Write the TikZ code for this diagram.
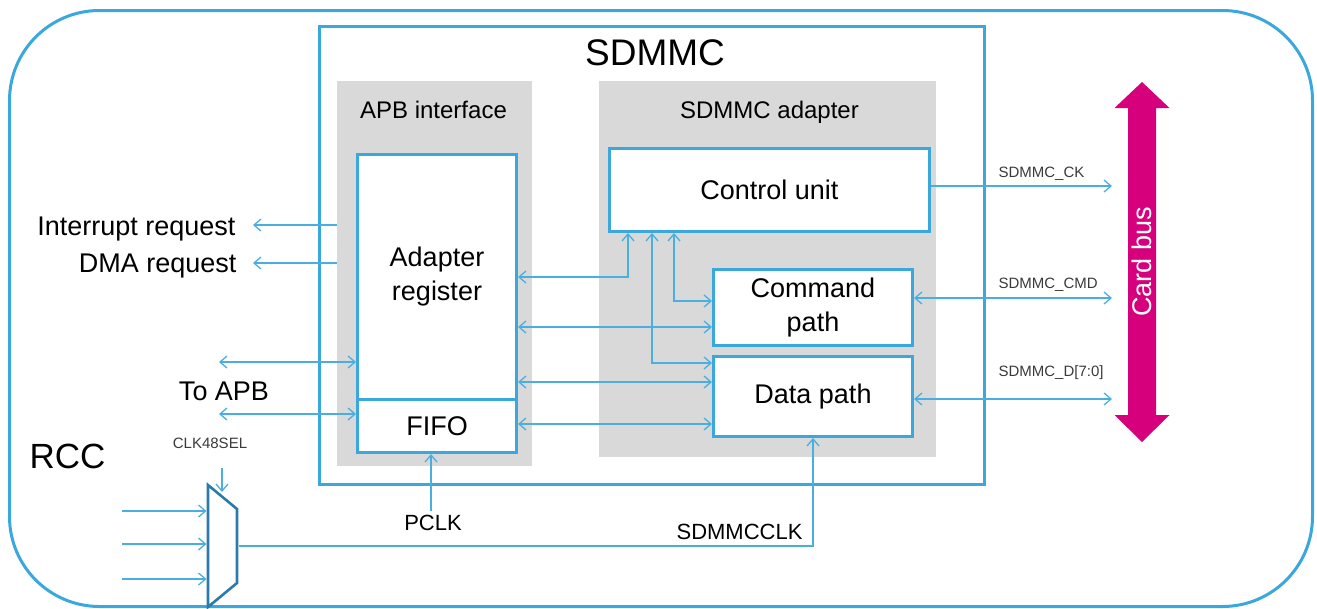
\documentclass[tikz,border=0pt]{standalone}
\usepackage{fontspec}
\setmainfont{Liberation Sans}
\usetikzlibrary{arrows.meta}

\definecolor{frameblue}{HTML}{3AA8DC}
\definecolor{linkblue}{HTML}{4AAFE0}
\definecolor{muxblue}{HTML}{2A7BAC}
\definecolor{panelgrey}{HTML}{D9D9D9}
\definecolor{busmagenta}{HTML}{D6007C}
\definecolor{smalltext}{HTML}{3A3A3A}

\begin{document}
\begin{tikzpicture}[x=1pt,y=-1pt,
  >={Straight Barb[length=7pt,width=12pt]},
  frame/.style={draw=frameblue,line width=3pt},
  panel/.style={fill=panelgrey,draw=none,anchor=north west,inner sep=0pt},
  block/.style={draw=frameblue,line width=3pt,fill=white,anchor=north west,
    align=center,inner sep=0pt,font=\fontsize{27}{34}\selectfont},
  link/.style={draw=linkblue,line width=1.3pt},
  paneltitle/.style={font=\fontsize{24}{28}\selectfont,anchor=base},
  biglabel/.style={font=\fontsize{27}{32}\selectfont},
  midlabel/.style={font=\fontsize{22}{26}\selectfont},
  siglabel/.style={font=\fontsize{15}{18}\selectfont,text=smalltext}]

\useasboundingbox (0,0) rectangle (1317,608);

% outer system frame
\node[frame,rounded corners=90pt,minimum width=1303pt,minimum height=596pt,
  anchor=north west,inner sep=0pt] (chip) at (8,9) {};

% SDMMC peripheral
\node[frame,fill=white,minimum width=665pt,minimum height=458pt,
  anchor=north west,inner sep=0pt] (sdmmc) at (318,25) {};
\node[font=\fontsize{37}{40}\selectfont,anchor=base] (sdmmctitle) at (655,65) {SDMMC};

% grey sub-blocks
\node[panel,minimum width=195pt,minimum height=385pt] (apbif) at (337,81) {};
\node[paneltitle] (apbtitle) at (433.5,118) {APB interface};
\node[panel,minimum width=337pt,minimum height=376pt] (adapter) at (599,81) {};
\node[paneltitle] (adtitle) at (769.5,118) {SDMMC adapter};

% functional blocks
\node[block,minimum width=159pt,minimum height=245pt] (adreg) at (356,153) {Adapter\\register};
\node[block,minimum width=159pt,minimum height=53pt] (fifo) at (356,398) {FIFO};
\node[block,minimum width=320pt,minimum height=83pt] (ctrl) at (608,147) {Control unit};
\node[block,minimum width=199pt,minimum height=76pt] (cmd) at (712,268) {Command\\path};
\node[block,minimum width=199pt,minimum height=80pt] (data) at (712,355) {Data path};

% card bus
\fill[busmagenta] (1142,82) -- (1169.5,108) -- (1156,108) -- (1156,415) -- (1169.5,415)
  -- (1142,442) -- (1114.5,415) -- (1128,415) -- (1128,108) -- (1114.5,108) -- cycle;
\node[rotate=90,text=white,font=\fontsize{27}{30}\selectfont] (cardbus) at (1142,262) {Card bus};

% request outputs
\coordinate (irq) at (253,225);
\coordinate (dma) at (253,263);
\draw[link,->] (apbif.west |- irq) -- (irq);
\draw[link,->] (apbif.west |- dma) -- (dma);
\node[biglabel,anchor=base east] (irqlabel) at (239,235) {Interrupt request};
\node[biglabel,anchor=base east] (dmalabel) at (240,272) {DMA request};

% APB bus
\coordinate (apbreg) at (219,362);
\coordinate (apbfifo) at (219,414);
\draw[link,<->] (apbreg) -- (adreg.west |- apbreg);
\draw[link,<->] (apbfifo) -- (fifo.west |- apbfifo);
\node[biglabel,anchor=base] (apblabel) at (224,400) {To APB};

% internal paths
\coordinate (k1) at (628,277);
\coordinate (k2) at (652,363);
\coordinate (k3) at (674,301);
\coordinate (k4) at (600,327);
\coordinate (k5) at (600,382);
\coordinate (k6) at (600,424);
\draw[link,<->] (adreg.east |- k1) -| (ctrl.south -| k1);
\draw[link,<->] (ctrl.south -| k2) |- (data.west |- k2);
\draw[link,<->] (ctrl.south -| k3) |- (cmd.west |- k3);
\draw[link,<->] (adreg.east |- k4) -- (cmd.west |- k4);
\draw[link,<->] (adreg.east |- k5) -- (data.west |- k5);
\draw[link,<->] (fifo.east |- k6) -- (data.west |- k6);

% card signals
\coordinate (ckend) at (1112,186);
\coordinate (cmdend) at (1112,298);
\coordinate (dend) at (1112,399);
\draw[link,->] (ctrl.east |- ckend) -- (ckend);
\draw[link,<->] (cmd.east |- cmdend) -- (cmdend);
\draw[link,<->] (data.east |- dend) -- (dend);
\node[siglabel,anchor=base west] (cklabel) at (995,177) {SDMMC\_CK};
\node[siglabel,anchor=base west] (cmdlabel) at (995,288) {SDMMC\_CMD};
\node[siglabel,anchor=base west] (dlabel) at (995,376) {SDMMC\_D[7:0]};

% clocks
\node[font=\fontsize{35}{38}\selectfont,anchor=base west] (rcc) at (26,468) {RCC};
\coordinate (pclk) at (431,511);
\draw[link,->] (pclk) -- (fifo.south -| pclk);
\node[midlabel,anchor=base] (pclklabel) at (433,530) {PCLK};

% clock selector
\draw[muxblue,line width=2.6pt,line join=miter] (208,485) -- (237,509) -- (237,583) -- (208,607) -- cycle;
\coordinate (muxout) at (238.5,546);
\draw[link,->] (muxout) -| (data.south);
\node[midlabel,anchor=base east] (clklabel) at (806,539) {SDMMCCLK};

\coordinate (sel) at (222,468);
\coordinate (selend) at (222,492);
\draw[link,->] (sel) -- (selend);
\node[siglabel,anchor=base] (sellabel) at (210,448) {CLK48SEL};

\coordinate (in1) at (122,511);
\coordinate (in2) at (122,544);
\coordinate (in3) at (122,579);
\coordinate (mux1) at (206.5,511);
\coordinate (mux2) at (206.5,544);
\coordinate (mux3) at (206.5,579);
\draw[link,->] (in1) -- (mux1);
\draw[link,->] (in2) -- (mux2);
\draw[link,->] (in3) -- (mux3);
\end{tikzpicture}
\end{document}
